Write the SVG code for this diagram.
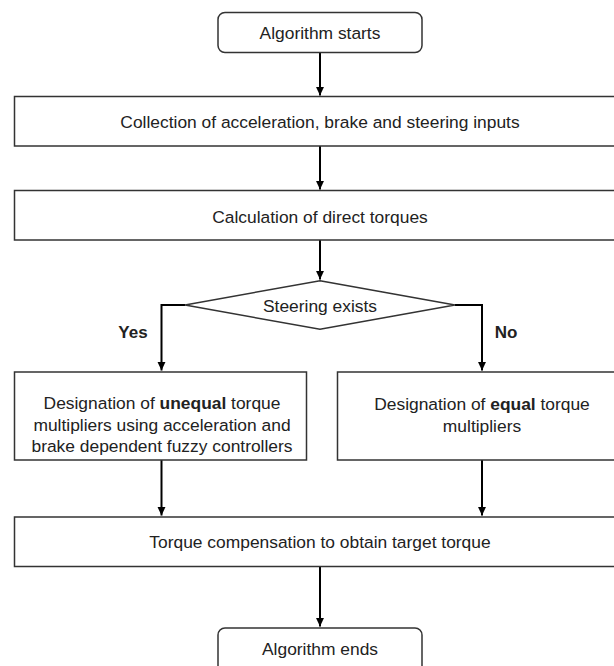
<svg xmlns="http://www.w3.org/2000/svg" width="614" height="666" viewBox="0 0 614 666">
<defs>
<marker id="arr" markerWidth="10" markerHeight="10" refX="9" refY="5" orient="auto" markerUnits="userSpaceOnUse">
<path d="M0,0.8 L9,5 L0,9.2 Z" fill="#000"/>
</marker>
<style>
.box{fill:#fff;stroke:#333;stroke-width:1.5}
.t{font-family:"Liberation Sans",Arial,sans-serif;font-size:17.4px;fill:#222;text-anchor:middle}
.b{font-weight:bold}
.lbl{font-size:17px}
.c{fill:none;stroke:#000;stroke-width:2}
</style>
</defs>
<rect width="614" height="666" fill="#fff"/>
<g id="connectors">
<path class="c" d="M320,52.5 V95.5" marker-end="url(#arr)"/>
<path class="c" d="M320,146 V189.5" marker-end="url(#arr)"/>
<path class="c" d="M320,240 V279.5" marker-end="url(#arr)"/>
<path class="c" d="M185,305 H161.5 V370.5" marker-end="url(#arr)"/>
<path class="c" d="M455,305 H482 V370.5" marker-end="url(#arr)"/>
<path class="c" d="M161.5,460 V515.5" marker-end="url(#arr)"/>
<path class="c" d="M482,460 V515.5" marker-end="url(#arr)"/>
<path class="c" d="M320,567 V626.5" marker-end="url(#arr)"/>
<text class="t b lbl" x="133" y="338">Yes</text>
<text class="t b lbl" x="506" y="338">No</text>
</g>
<g id="start">
<rect class="box" x="218" y="12.5" width="204" height="40" rx="7"/>
<text class="t" x="320" y="38.5">Algorithm starts</text>
</g>
<g id="collection">
<rect class="box" x="14.5" y="96.5" width="610" height="49.5"/>
<text class="t" x="320" y="128">Collection of acceleration, brake and steering inputs</text>
</g>
<g id="calculation">
<rect class="box" x="14.5" y="190.5" width="610" height="49.5"/>
<text class="t" x="320" y="222.5">Calculation of direct torques</text>
</g>
<g id="decision">
<polygon class="box" points="320,280.7 455,305 320,329.3 185,305"/>
<text class="t" x="320" y="311.5">Steering exists</text>
</g>
<g id="unequal">
<rect class="box" x="14.5" y="372" width="292" height="88"/>
<text class="t" x="162" y="409">Designation of <tspan class="b">unequal</tspan> torque</text>
<text class="t" x="162" y="430.5">multipliers using acceleration and</text>
<text class="t" x="162" y="451.5">brake dependent fuzzy controllers</text>
</g>
<g id="equal">
<rect class="box" x="337.5" y="372" width="290" height="88"/>
<text class="t" x="482" y="410">Designation of <tspan class="b">equal</tspan> torque</text>
<text class="t" x="482" y="431.5">multipliers</text>
</g>
<g id="compensation">
<rect class="box" x="14.5" y="517" width="610" height="49.5"/>
<text class="t" x="320" y="547.5">Torque compensation to obtain target torque</text>
</g>
<g id="end">
<rect class="box" x="218" y="628" width="204" height="50" rx="7"/>
<text class="t" x="320" y="655">Algorithm ends</text>
</g>
</svg>
